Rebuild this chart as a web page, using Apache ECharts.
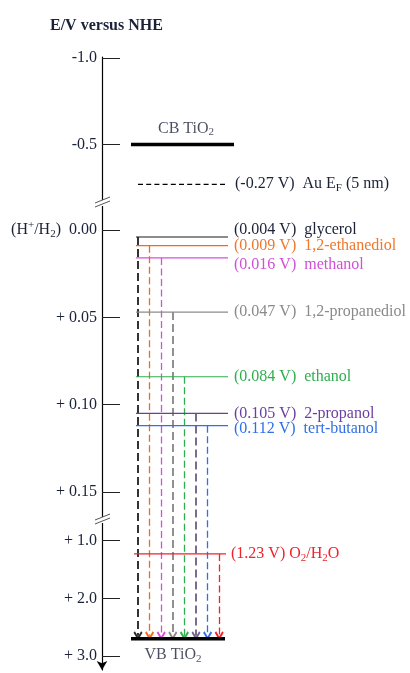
<!DOCTYPE html>
<html>
<head>
<meta charset="utf-8">
<script src="https://cdn.jsdelivr.net/npm/echarts@6.0.0/dist/echarts.min.js"></script>
<style>
  html, body { margin: 0; padding: 0; background: #fff; }
  #main { width: 410px; height: 673px; }
</style>
</head>
<body>
<div id="main"></div>
<script>
// substrates and their oxidation potentials (V vs NHE)
const species = ['glycerol', '1,2-ethanediol', 'methanol', '1,2-propanediol', 'ethanol', '2-propanol', 'tert-butanol'];
const potentials = [0.004, 0.009, 0.016, 0.047, 0.084, 0.105, 0.112];
const cbPotential = -0.5;
const vbPotential = 2.7;
const auPotential = -0.27;
const o2Potential = 1.23;
// axis ticks
const tickValues = [-1.0, -0.5, 0.00, 0.05, 0.10, 0.15, 1.0, 2.0, 3.0];
const tickLabels = ['-1.0', '-0.5', '(H+/H2) 0.00', '+ 0.05', '+ 0.10', '+ 0.15', '+ 1.0', '+ 2.0', '+ 3.0'];

// styling
const lineColors = ['#1a1a1a', '#f26b1d', '#d64fdc', '#8c8c8c', '#2fae4e', '#6b3fa0', '#2f6fe8'];
const textColors = ['#1b2238', '#f0772e', '#d04fd8', '#8a8a8a', '#2fae4e', '#6b3fa0', '#2f6fe8'];
const arrowColors = ['#2a2a2a', '#f26b1d', '#d64fdc', '#8c8c8c', '#2fae4e', '#74658c', '#2f6fe8', '#f0222c'];
const labelShift = [-7, 0, 7, 0, 0, 0, 3];
const red = '#f0222c';
const ink = '#1b2238';
const FONT = '"Liberation Serif", "Times New Roman", serif';

// broken axis: three linear pieces mapped to one axis
function toU(v) {
  if (v < -0.1) return 1 + (v + 1) * 173;
  if (v < 0.5) return 173 + v * 1747;
  return 483.7 + (v - 1) * 57.7;
}
const breaksU = [146, 463];
const tickU = tickValues.map(toU);

const rich = {
  sub: { fontSize: 11, fontFamily: FONT, padding: [8, 0, 0, 0] },
  sup: { fontSize: 11, fontFamily: FONT, padding: [0, 0, 9, 0] }
};

function tickFormatter(val) {
  let i = tickU.findIndex(t => Math.abs(t - val) < 0.01);
  if (i < 0) return '';
  if (i === 2) return '(H{sup|+}/H{sub|2})  0.00';
  return tickLabels[i];
}

const chart = echarts.init(document.getElementById('main'));
const series = [];

// CB TiO2
series.push({
  type: 'line', symbol: 'none', silent: true,
  data: [[29, toU(cbPotential)], [132, toU(cbPotential)]],
  lineStyle: { color: '#000', width: 3.5 }
});
series.push({
  type: 'scatter', symbolSize: 1, itemStyle: { color: 'transparent' }, silent: true,
  data: [[84, toU(cbPotential)]],
  label: { show: true, position: 'top', distance: 6, formatter: 'CB TiO{sub|2}', color: ink, fontSize: 16, fontFamily: FONT, rich: rich }
});
// VB TiO2
series.push({
  type: 'line', symbol: 'none', silent: true,
  data: [[29, toU(vbPotential)], [123, toU(vbPotential)]],
  lineStyle: { color: '#000', width: 3.5 }, z: 5
});
series.push({
  type: 'scatter', symbolSize: 1, itemStyle: { color: 'transparent' }, silent: true,
  data: [[71, toU(vbPotential)]],
  label: { show: true, position: 'bottom', distance: 6, formatter: 'VB TiO{sub|2}', color: ink, fontSize: 16, fontFamily: FONT, rich: rich }
});
// Au Fermi level
series.push({
  type: 'line', symbol: 'none', silent: true,
  data: [[36, toU(auPotential)], [126, toU(auPotential)]],
  lineStyle: { color: '#000', width: 1.2, type: [5, 3.2] },
  endLabel: { show: true, distance: 7, color: ink, fontSize: 16, fontFamily: FONT, rich: rich,
    formatter: '(' + auPotential.toFixed(2) + ' V)  Au E{sub|F} (5 nm)' }
});

// substrate levels + arrows
const arrowPath = 'path://M5,0 L10,6.6 L8.4,7.8 L5,3.2 L1.6,7.8 L0,6.6 Z';
species.forEach((name, i) => {
  const u = toU(potentials[i]);
  series.push({
    type: 'line', symbol: 'none', silent: true,
    data: [[34, u], [126, u]],
    lineStyle: { color: lineColors[i], width: 1.2 },
    endLabel: { show: true, distance: 6, offset: [0, labelShift[i]], color: textColors[i], fontSize: 16, fontFamily: FONT,
      formatter: '(' + potentials[i].toFixed(3) + ' V)  ' + name }
  });
});
series.push({
  type: 'line', symbol: 'none', silent: true,
  data: [[32, toU(o2Potential)], [124, toU(o2Potential)]],
  lineStyle: { color: red, width: 1.2 },
  endLabel: { show: true, distance: 5, color: red, fontSize: 16, fontFamily: FONT, rich: rich,
    formatter: '(' + o2Potential.toFixed(2) + ' V) O{sub|2}/H{sub|2}O' }
});

const arrowStarts = potentials.concat([o2Potential]);
arrowStarts.forEach((p, i) => {
  const x = 36 + i * 11.6;
  const heavy = (i === 0 || i === 3 || i === 5);
  series.push({
    type: 'lines', coordinateSystem: 'cartesian2d', silent: true, z: 3,
    symbol: ['none', arrowPath], symbolSize: [11, 9],
    lineStyle: { color: arrowColors[i], width: heavy ? 1.9 : 1.3, type: heavy ? [8, 4] : [7, 3.5], opacity: 1 },
    data: [{ coords: [[x, toU(p)], [x, toU(vbPotential) - 3]] }]
  });
});

// axis break marks
series.push({
  type: 'custom', silent: true, clip: false, z: 10,
  data: breaksU.map(b => [0, b]),
  renderItem: function (params, api) {
    const c = api.coord([0, api.value(1)]);
    return {
      type: 'group',
      children: [
        { type: 'rect', shape: { x: c[0] - 2, y: c[1] - 3, width: 4, height: 6 }, style: { fill: '#fff' } },
        { type: 'line', shape: { x1: c[0] - 7, y1: c[1] + 4, x2: c[0] + 8, y2: c[1] - 2 }, style: { stroke: '#555', lineWidth: 1 } },
        { type: 'line', shape: { x1: c[0] - 7, y1: c[1] + 0, x2: c[0] + 8, y2: c[1] - 6 }, style: { stroke: '#555', lineWidth: 1 } }
      ]
    };
  }
});

chart.setOption({
  animation: false,
  backgroundColor: '#fff',
  title: {
    text: 'E/V versus NHE', left: 45, top: 13,
    textStyle: { color: ink, fontSize: 16, fontWeight: 'bold', fontFamily: FONT }
  },
  grid: { left: 102, right: 0, top: 57, bottom: 3, containLabel: false },
  xAxis: { type: 'value', min: 0, max: 308, show: false },
  yAxis: {
    type: 'value', inverse: true, min: 0, max: 613,
    splitLine: { show: false },
    axisLine: { show: true, lineStyle: { color: '#000', width: 1.2 }, symbol: ['arrow', 'none'], symbolSize: [8, 9] },
    axisTick: { show: true, inside: true, length: 18, lineStyle: { color: '#222', width: 1 }, customValues: tickU },
    axisLabel: { show: true, margin: 5, color: ink, fontSize: 16, fontFamily: FONT, customValues: tickU, formatter: tickFormatter, rich: rich }
  },
  series: series
});
</script>
</body>
</html>
